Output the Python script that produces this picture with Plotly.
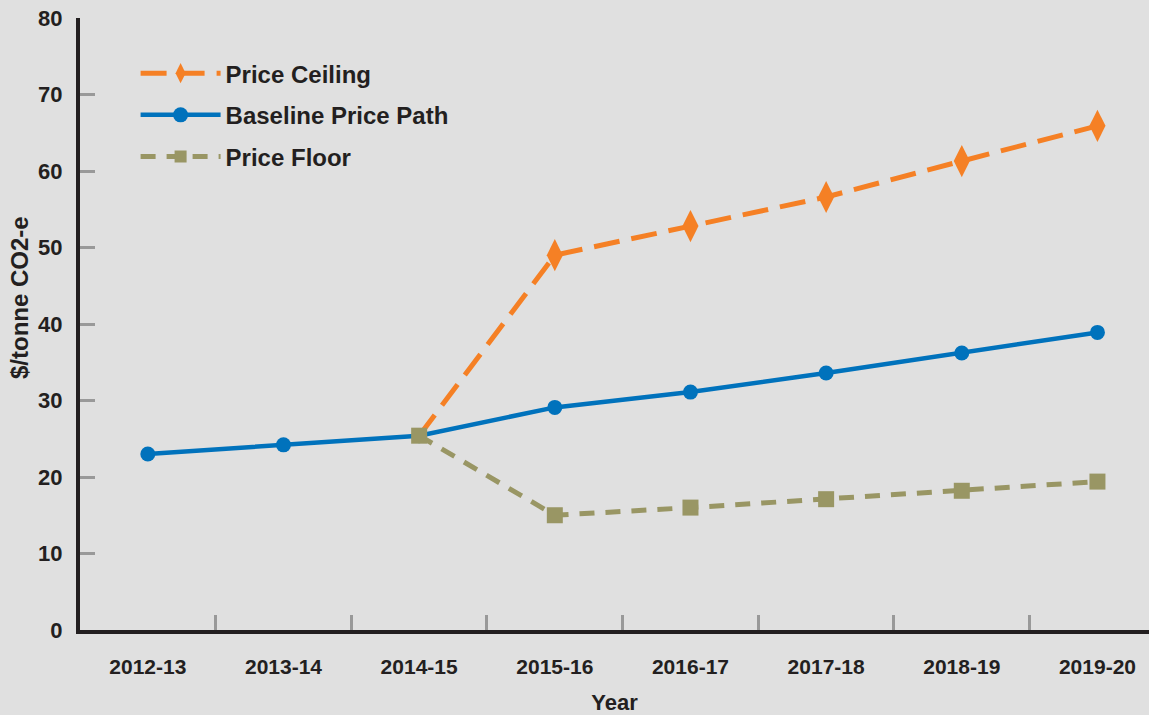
import plotly.graph_objects as go

years = ["2012-13", "2013-14", "2014-15", "2015-16", "2016-17", "2017-18", "2018-19", "2019-20"]
baseline = [23.0, 24.2, 25.4, 29.1, 31.1, 33.6, 36.2, 38.9]
ceiling = [None, None, 25.4, 49.0, 52.8, 56.6, 61.3, 65.9]
floor = [None, None, 25.4, 15.0, 16.0, 17.1, 18.2, 19.4]

ORANGE = "#f58025"
BLUE = "#0072bc"
OLIVE = "#999664"
BG = "#e0e0e0"
DARK = "#231f20"
FONT = "Liberation Sans, Arial, sans-serif"

fig = go.Figure()

fig.add_trace(go.Scatter(
    x=years, y=ceiling, name="<b>Price Ceiling</b>", mode="lines+markers",
    line=dict(color=ORANGE, width=5, dash="26px,12px"),
    marker=dict(symbol="diamond-tall", size=[0, 0, 0, 23, 23, 23, 23, 23], color=ORANGE,
                line=dict(width=0), opacity=1),
    legendgroup="a",
))
fig.add_trace(go.Scatter(
    x=years, y=baseline, name="<b>Baseline Price Path</b>", mode="lines+markers",
    line=dict(color=BLUE, width=4.5),
    marker=dict(symbol="circle", size=15, color=BLUE, line=dict(width=0), opacity=1),
    legendgroup="b",
))
fig.add_trace(go.Scatter(
    x=years, y=floor, name="<b>Price Floor</b>", mode="lines+markers",
    line=dict(color=OLIVE, width=5, dash="15px,11px"),
    marker=dict(symbol="square", size=[0, 0, 16, 16, 16, 16, 16, 16], color=OLIVE,
                line=dict(width=0), opacity=1),
    legendgroup="c",
))

fig.update_layout(
    width=1149, height=715,
    margin=dict(l=80, r=0, t=18, b=85),
    paper_bgcolor=BG, plot_bgcolor=BG,
    font=dict(family=FONT, color=DARK),
    showlegend=True,
    legend=dict(
        x=0.052, y=0.946, xanchor="left", yanchor="top",
        bgcolor="rgba(0,0,0,0)", font=dict(size=24, family=FONT, color=DARK),
        itemwidth=80, tracegroupgap=7.5, traceorder="grouped",
    ),
    xaxis=dict(
        type="category", range=[-0.5, 7.38],
        showline=True, linecolor=DARK, linewidth=4,
        ticks="inside", tickson="boundaries", ticklen=15, tickwidth=3, tickcolor="#999999",
        showgrid=False, zeroline=False,
        tickfont=dict(size=21, family=FONT, color=DARK, weight="bold"),
        ticklabelstandoff=15,
        title=dict(text="<b>Year</b>", font=dict(size=22, family=FONT, color=DARK), standoff=20),
    ),
    yaxis=dict(
        range=[0, 80], dtick=10,
        showline=True, linecolor=DARK, linewidth=4,
        ticks="inside", ticklen=15, tickwidth=3, tickcolor="#999999",
        showgrid=False, zeroline=False,
        tickfont=dict(size=22, family=FONT, color=DARK, weight="bold"),
        ticklabelstandoff=9,
    ),
    annotations=[dict(
        text="<b>$/tonne CO2-e</b>", textangle=-90, showarrow=False,
        xref="paper", yref="paper", x=-0.0561, y=0.5425, xanchor="center", yanchor="middle",
        font=dict(size=24, family=FONT, color=DARK),
    )],
)

fig.write_html("out.html", config={"displayModeBar": False},
               post_script="document.body.style.margin='0';")
